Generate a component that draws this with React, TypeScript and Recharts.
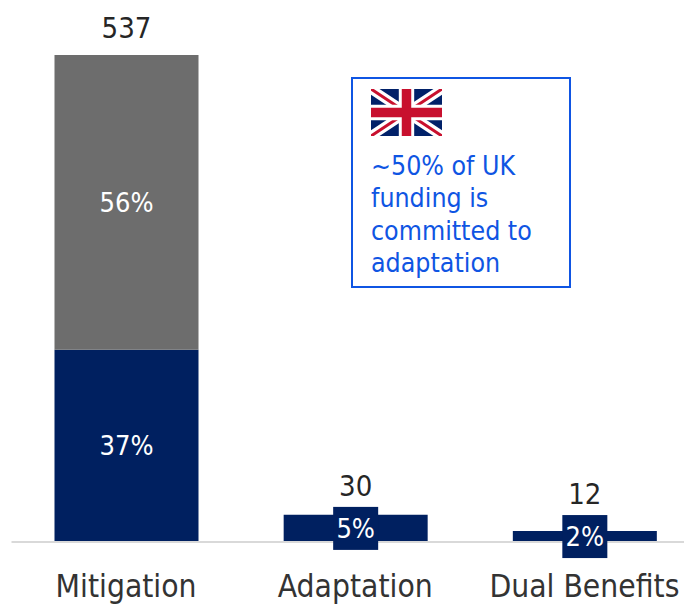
import { BarChart, Bar, XAxis, YAxis, LabelList } from "recharts";

const FONT = '"DejaVu Sans Condensed", "DejaVu Sans", sans-serif';

const categories = ["Mitigation", "Adaptation", "Dual Benefits"];
const navyValues = [212, 30, 12];
const greyValues = [325, 0, 0];
const totals = [537, 30, 12];
const navyShares = ["37%", "5%", "2%"];
const greyShares = ["56%", "", ""];
const calloutLines = ["~50% of UK", "funding is", "committed to", "adaptation"];

const NAVY = "#002060";
const GREY = "#6d6d6d";
const BLUE = "#0f55e3";

const data = categories.map((name, i) => ({
  name,
  navy: navyValues[i],
  grey: greyValues[i],
  navyShare: navyShares[i],
  greyShare: greyShares[i],
  // the total is hung on whichever segment is the top of the stack
  navyTotal: greyValues[i] > 0 ? "" : totals[i],
  greyTotal: greyValues[i] > 0 ? totals[i] : "",
}));

// bars too thin to hold the text get a navy box behind the percentage
const BOX_W = 45;
const BOX_H = 43;

function ShareLabel(props: any) {
  const { x, y, width, height, value } = props;
  if (!value) return null;
  const cx = x + width / 2;
  const cy = y + height / 2;
  return (
    <g>
      {height < BOX_H && (
        <rect x={cx - BOX_W / 2} y={cy - BOX_H / 2} width={BOX_W} height={BOX_H} fill={NAVY} />
      )}
      <text
        x={cx}
        y={cy}
        fill="#fff"
        fontSize={27}
        fontFamily={FONT}
        textAnchor="middle"
        dominantBaseline="central"
      >
        {value}
      </text>
    </g>
  );
}

function TotalLabel(props: any) {
  const { x, y, width, height, value } = props;
  if (!value) return null;
  const cx = x + width / 2;
  // small bars carry the box, so the total sits above the box instead
  const top = height < BOX_H ? y + height / 2 - BOX_H / 2 : y - 6;
  return (
    <text
      x={cx}
      y={top - 21}
      fill="#262626"
      fontSize={29}
      fontFamily={FONT}
      textAnchor="middle"
      dominantBaseline="central"
    >
      {value}
    </text>
  );
}

function UkFlag() {
  return (
    <svg
      width={71}
      height={47}
      viewBox="0 0 60 40"
      preserveAspectRatio="none"
      style={{ position: "absolute", left: 18, top: 10 }}
    >
      <rect width={60} height={40} fill="#012169" />
      <path d="M0 0L60 40M60 0L0 40" stroke="#fff" strokeWidth={8} />
      <path d="M0 0L60 40M60 0L0 40" stroke="#c8102e" strokeWidth={2.6} />
      <path d="M30 0V40M0 20H60" stroke="#fff" strokeWidth={13} />
      <path d="M30 0V40M0 20H60" stroke="#c8102e" strokeWidth={8} />
    </svg>
  );
}

export default function App() {
  return (
    <div
      style={{
        position: "absolute",
        left: 0,
        top: 0,
        width: 684,
        height: 605,
        overflow: "hidden",
        background: "#fff",
      }}
    >
      <BarChart
        width={699}
        height={605}
        data={data}
        margin={{ top: 55, right: 0, bottom: 0, left: 11.5 }}
        barSize={144}
      >
        <YAxis hide domain={[0, 537]} />
        <XAxis
          dataKey="name"
          height={63}
          interval={0}
          axisLine={{ stroke: "#d9d9d9", strokeWidth: 2 }}
          tickLine={false}
          tickMargin={27}
          tick={{ fill: "#333", fontSize: 31.5, fontFamily: FONT }}
        />
        <Bar dataKey="navy" stackId="a" fill={NAVY} isAnimationActive={false}>
          <LabelList dataKey="navyShare" content={ShareLabel} />
          <LabelList dataKey="navyTotal" content={TotalLabel} />
        </Bar>
        <Bar dataKey="grey" stackId="a" fill={GREY} isAnimationActive={false}>
          <LabelList dataKey="greyShare" content={ShareLabel} />
          <LabelList dataKey="greyTotal" content={TotalLabel} />
        </Bar>
      </BarChart>
      <div
        style={{
          position: "absolute",
          left: 351,
          top: 77,
          width: 216,
          height: 207,
          border: "2px solid " + BLUE,
          color: BLUE,
          fontFamily: FONT,
          fontSize: 26.5,
          lineHeight: "32.4px",
        }}
      >
        <UkFlag />
        <div style={{ position: "absolute", left: 18, top: 71, whiteSpace: "nowrap" }}>
          {calloutLines.map((line) => (
            <div key={line}>{line}</div>
          ))}
        </div>
      </div>
    </div>
  );
}
